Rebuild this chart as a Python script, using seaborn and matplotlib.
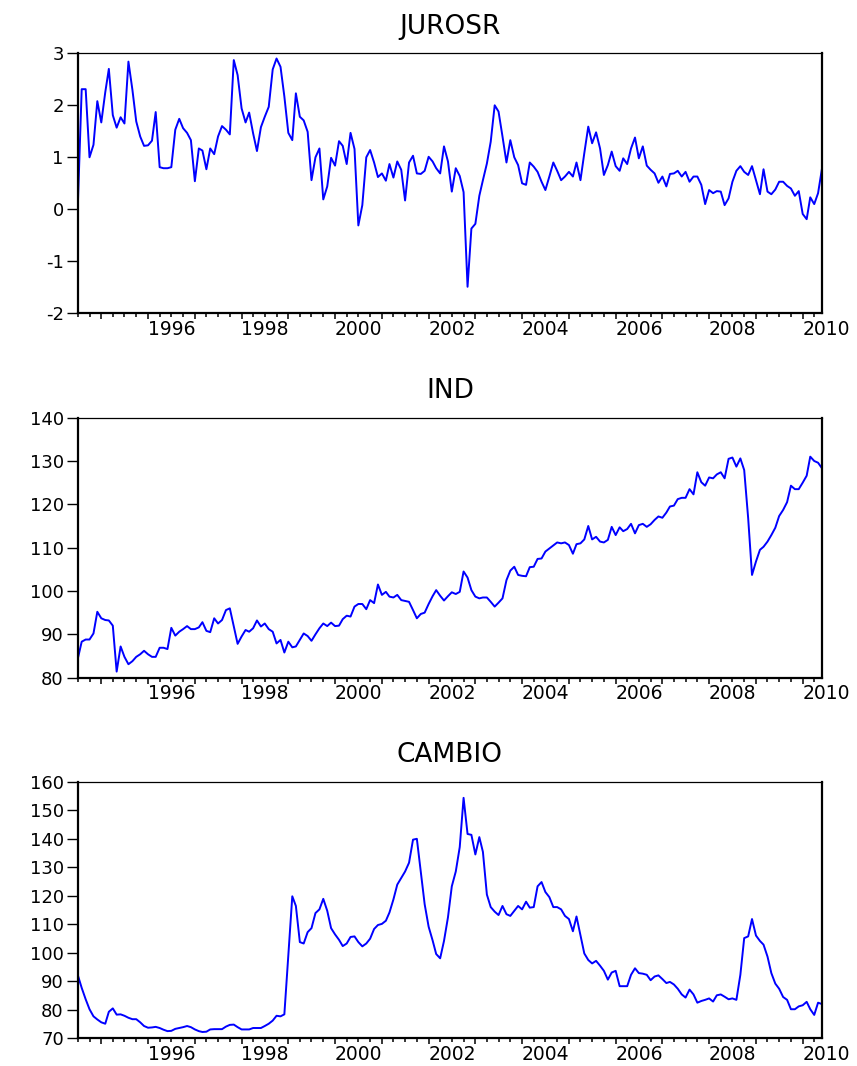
# Three monthly series (1994:07 - 2010:06), EViews style panels
import pandas as pd
import matplotlib
matplotlib.use("Agg")
import matplotlib.pyplot as plt
import matplotlib.dates as mdates
from matplotlib.ticker import FuncFormatter, MultipleLocator, NullFormatter
from matplotlib.transforms import ScaledTranslation
import seaborn as sns

# data
dates = pd.date_range("1994-07-01", periods=192, freq="MS")

jurosr = [
    0.02, 2.31, 2.31, 1.00, 1.24, 2.08, 1.67, 2.25, 2.70, 1.81,
    1.57, 1.77, 1.65, 2.84, 2.30, 1.69, 1.40, 1.22, 1.23, 1.32,
    1.87, 0.81, 0.79, 0.79, 0.81, 1.53, 1.74, 1.56, 1.47, 1.33,
    0.54, 1.17, 1.13, 0.77, 1.17, 1.06, 1.40, 1.60, 1.53, 1.44,
    2.87, 2.58, 1.94, 1.67, 1.86, 1.46, 1.12, 1.58, 1.78, 1.97,
    2.69, 2.90, 2.74, 2.17, 1.47, 1.33, 2.23, 1.78, 1.71, 1.49,
    0.56, 1.00, 1.17, 0.19, 0.44, 0.99, 0.84, 1.31, 1.22, 0.87,
    1.47, 1.16, -0.31, 0.08, 1.00, 1.14, 0.90, 0.62, 0.69, 0.55,
    0.87, 0.61, 0.92, 0.76, 0.17, 0.90, 1.03, 0.69, 0.68, 0.74,
    1.01, 0.92, 0.79, 0.69, 1.21, 0.92, 0.34, 0.79, 0.64, 0.33,
    -1.49, -0.37, -0.28, 0.26, 0.56, 0.88, 1.30, 2.00, 1.88, 1.40,
    0.90, 1.33, 1.00, 0.85, 0.50, 0.47, 0.90, 0.82, 0.72, 0.53,
    0.37, 0.63, 0.90, 0.74, 0.56, 0.63, 0.72, 0.63, 0.90, 0.56,
    1.08, 1.59, 1.27, 1.48, 1.17, 0.66, 0.85, 1.11, 0.83, 0.74,
    0.98, 0.87, 1.17, 1.38, 0.98, 1.21, 0.84, 0.76, 0.69, 0.51,
    0.63, 0.44, 0.68, 0.69, 0.74, 0.63, 0.72, 0.53, 0.63, 0.63,
    0.47, 0.10, 0.37, 0.31, 0.35, 0.34, 0.08, 0.21, 0.53, 0.74,
    0.83, 0.72, 0.66, 0.83, 0.56, 0.29, 0.77, 0.34, 0.29, 0.38,
    0.53, 0.53, 0.45, 0.40, 0.26, 0.35, -0.09, -0.19, 0.23, 0.10,
    0.31, 0.79,
]

ind = [
    84.3, 88.3, 88.8, 88.8, 90.2, 95.2, 93.7, 93.3, 93.2, 92.0,
    81.4, 87.2, 84.8, 83.1, 83.8, 84.8, 85.4, 86.2, 85.4, 84.8,
    84.8, 86.9, 86.9, 86.6, 91.5, 89.7, 90.6, 91.2, 91.9, 91.2,
    91.2, 91.6, 92.8, 90.8, 90.5, 93.7, 92.5, 93.3, 95.6, 96.0,
    91.8, 87.8, 89.5, 91.0, 90.6, 91.4, 93.2, 91.8, 92.5, 91.2,
    90.6, 87.9, 88.7, 85.8, 88.3, 87.0, 87.2, 88.7, 90.2, 89.6,
    88.5, 90.0, 91.4, 92.5, 91.9, 92.7, 91.9, 92.0, 93.5, 94.3,
    94.1, 96.4, 97.0, 97.0, 95.8, 97.9, 97.2, 101.5, 99.1, 99.8,
    98.7, 98.5, 99.1, 97.9, 97.7, 97.5, 95.6, 93.7, 94.7, 95.0,
    97.0, 98.8, 100.2, 98.9, 97.8, 98.8, 99.7, 99.3, 99.8, 104.5,
    103.1, 100.2, 98.7, 98.3, 98.5, 98.5, 97.5, 96.4, 97.3, 98.3,
    102.5, 104.7, 105.6, 103.7, 103.5, 103.4, 105.5, 105.6, 107.4, 107.5,
    109.1, 109.8, 110.5, 111.2, 111.0, 111.2, 110.6, 108.6, 110.8, 111.0,
    111.9, 115.0, 111.9, 112.5, 111.4, 111.2, 111.8, 114.8, 112.9, 114.7,
    113.8, 114.3, 115.5, 113.3, 115.2, 115.5, 114.8, 115.4, 116.4, 117.2,
    116.9, 118.1, 119.5, 119.7, 121.2, 121.5, 121.5, 123.5, 122.3, 127.4,
    125.1, 124.3, 126.2, 126.0, 126.9, 127.4, 126.0, 130.5, 130.8, 128.7,
    130.6, 127.9, 116.8, 103.7, 106.8, 109.5, 110.2, 111.4, 112.9, 114.6,
    117.3, 118.7, 120.5, 124.3, 123.5, 123.5, 125.0, 126.6, 131.0, 130.0,
    129.6, 128.3,
]

cambio = [
    92.2, 87.6, 83.6, 80.1, 77.6, 76.5, 75.5, 75.0, 79.2, 80.4,
    78.2, 78.3, 77.8, 77.1, 76.6, 76.6, 75.5, 74.2, 73.6, 73.7,
    73.9, 73.5, 72.9, 72.4, 72.5, 73.2, 73.5, 73.8, 74.2, 73.8,
    73.0, 72.4, 72.1, 72.2, 73.0, 73.1, 73.1, 73.1, 74.0, 74.6,
    74.7, 73.8, 73.0, 73.0, 73.0, 73.5, 73.5, 73.5, 74.2, 75.0,
    76.1, 77.8, 77.6, 78.3, 99.0, 119.8, 116.4, 103.7, 103.2, 107.2,
    108.6, 113.9, 115.2, 118.9, 114.7, 108.6, 106.4, 104.5, 102.3, 103.2,
    105.5, 105.7, 103.7, 102.2, 103.2, 104.9, 108.3, 109.7, 110.1, 111.2,
    114.1, 118.7, 123.9, 126.2, 128.5, 131.6, 139.7, 140.0, 128.2, 117.0,
    109.1, 104.3, 99.5, 98.0, 104.1, 112.4, 123.3, 128.5, 137.1, 154.4,
    141.7, 141.4, 134.5, 140.6, 135.4, 120.4, 116.0, 114.4, 113.2, 116.4,
    113.5, 112.9, 114.7, 116.4, 115.2, 117.9, 115.8, 116.0, 123.3, 124.8,
    121.3, 119.5, 116.0, 116.0, 115.2, 112.9, 111.8, 107.5, 112.7, 106.0,
    99.7, 97.4, 96.2, 97.1, 95.4, 93.6, 90.5, 93.0, 93.6, 88.2,
    88.2, 88.2, 92.2, 94.5, 92.8, 92.6, 92.2, 90.3, 91.6, 92.0,
    90.7, 89.3, 89.7, 88.8, 87.3, 85.3, 84.2, 87.0, 85.3, 82.4,
    83.0, 83.4, 83.9, 82.8, 85.0, 85.3, 84.5, 83.6, 83.9, 83.4,
    92.2, 105.1, 105.7, 111.8, 106.0, 104.1, 102.8, 98.6, 92.8, 89.1,
    87.3, 84.4, 83.4, 80.1, 80.1, 81.1, 81.5, 82.7, 80.1, 78.1,
    82.4, 81.9,
]

titles = ["JUROSR", "IND", "CAMBIO"]
series = [jurosr, ind, cambio]
y_limits = [(-2, 3), (80, 140), (70, 160)]
y_steps = [1, 10, 10]

# style
sns.set_style("ticks")
plt.rcParams["font.family"] = ["DejaVu Sans"]
plt.rcParams["axes.unicode_minus"] = False
plt.rcParams["text.color"] = "black"
plt.rcParams["xtick.color"] = "black"
plt.rcParams["ytick.color"] = "black"
plt.rcParams["axes.titlecolor"] = "black"

fig = plt.figure(figsize=(8.57, 10.66), dpi=100)

# axes boxes in figure fractions (left, bottom, width, height)
boxes = [
    [0.0907, 0.7061, 0.8685, 0.2439],
    [0.0907, 0.3643, 0.8685, 0.2439],
    [0.0907, 0.0263, 0.8685, 0.2402],
]

even_year = FuncFormatter(
    lambda x, pos: str(mdates.num2date(x).year) if mdates.num2date(x).year % 2 == 0 else ""
)

axes = []
for box, title, vals, ylim, step in zip(boxes, titles, series, y_limits, y_steps):
    ax = fig.add_axes(box)
    sns.lineplot(x=dates, y=vals, ax=ax, color="#0000ff", linewidth=1.4)
    ax.set_xlim(dates[0], dates[-1])
    ax.set_ylim(*ylim)
    ax.yaxis.set_major_locator(MultipleLocator(step))
    ax.xaxis.set_major_locator(mdates.YearLocator())
    ax.xaxis.set_minor_locator(mdates.MonthLocator(bymonth=[1, 4, 7, 10]))
    ax.xaxis.set_major_formatter(even_year)
    ax.xaxis.set_minor_formatter(NullFormatter())
    ax.tick_params(axis="x", which="major", length=4.3, width=1.1, pad=0.5, labelsize=13.5)
    ax.tick_params(axis="x", which="minor", length=2.6, width=1.1)
    ax.tick_params(axis="y", which="major", length=8, width=1.0, pad=2, labelsize=13)
    for side in ["left", "bottom", "right"]:
        ax.spines[side].set_linewidth(1.6)
    ax.spines["top"].set_linewidth(0.9)
    for side in ax.spines:
        ax.spines[side].set_color("black")
        ax.spines[side].set_visible(True)
    ax.set_xlabel("")
    ax.set_ylabel("")
    ax.set_title(title, fontsize=19, pad=14)
    axes.append(ax)

# year labels sit in the middle of each year span
fig.canvas.draw()
ax_w = boxes[0][2] * fig.get_figwidth()
span_days = (dates[-1] - dates[0]).days
half_year = 182.6 / span_days * ax_w
shift = ScaledTranslation(half_year, 0, fig.dpi_scale_trans)
for ax in axes:
    for lbl in ax.get_xticklabels():
        lbl.set_transform(lbl.get_transform() + shift)

fig.savefig("out.png", dpi=100)
